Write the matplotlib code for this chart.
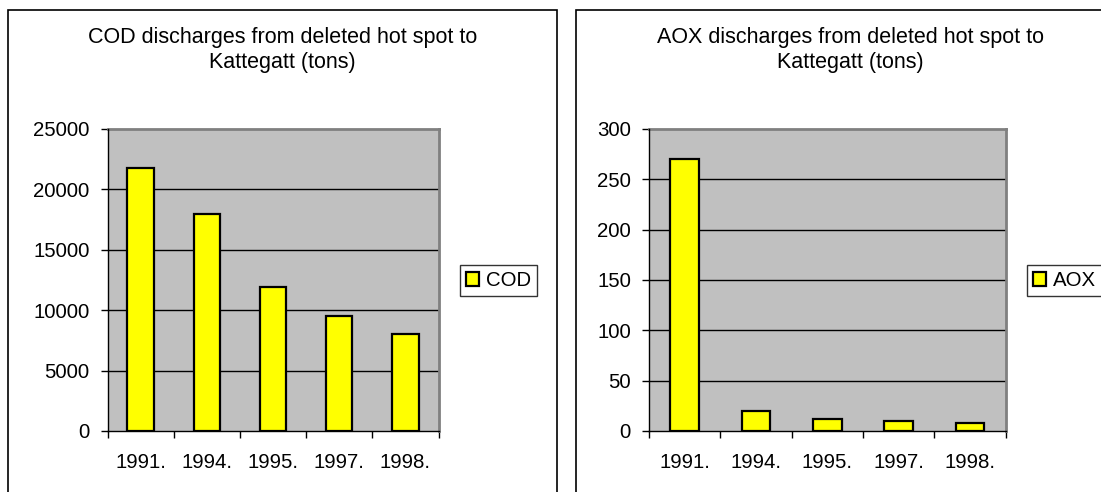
import numpy as np
import matplotlib.pyplot as plt
from matplotlib.patches import Rectangle, Patch

years = ["1991.", "1994.", "1995.", "1997.", "1998."]
cod_tons = [21800, 18000, 11900, 9500, 8000]
aox_tons = [270, 20, 12, 10, 8]

W, H = 1101, 492
plt.rcParams['font.family'] = ['Liberation Sans', 'DejaVu Sans']
FS = 14.7
FS_TITLE = 15.5


def fx(px):
    return px / W


def fy(py):
    return 1 - py / H


def draw_panel(fig, rect, values, ymax, ystep, title, label, panel_x, legend_x):
    # outer chart border
    fig.patches.append(Rectangle((fx(panel_x), -0.05), fx(549), fy(10) + 0.05,
                                 transform=fig.transFigure, fill=False,
                                 edgecolor="black", lw=1.2, zorder=0))
    ax = fig.add_axes(rect)
    ax.set_facecolor("#c0c0c0")
    x = np.arange(len(values))
    ax.bar(x, values, width=0.4, color="#ffff00", edgecolor="black",
           linewidth=1.6, zorder=3, label=label)
    ax.set_xlim(-0.5, len(values) - 0.5)
    ax.set_ylim(0, ymax)
    ax.set_yticks(np.arange(0, ymax + 1, ystep))
    for yv in np.arange(ystep, ymax, ystep):
        ax.axhline(yv, color="black", lw=1.0, zorder=1)

    ax.set_xticks(x)
    ax.set_xticklabels(years, fontsize=FS)
    ax.set_xticks(np.arange(-0.5, len(values)), minor=True)
    ax.tick_params(axis="x", which="major", length=0, pad=16)
    ax.tick_params(axis="x", which="minor", length=5, width=1.0, direction="out")
    ax.tick_params(axis="y", length=5, width=1.0, pad=8, labelsize=FS)

    for side in ("top", "right"):
        ax.spines[side].set_color("#808080")
        ax.spines[side].set_linewidth(2)
    for side in ("left", "bottom"):
        ax.spines[side].set_color("black")
        ax.spines[side].set_linewidth(1.0)
    ax.spines["left"].set_zorder(4)
    ax.spines["bottom"].set_zorder(4)

    fig.text(fx(panel_x + 549 / 2), fy(50), title, ha="center", va="center",
             fontsize=FS_TITLE, linespacing=1.2)

    handle = Patch(facecolor="#ffff00", edgecolor="black", linewidth=1.6)
    leg = ax.legend([handle], [label], loc="center left",
                    bbox_to_anchor=(fx(legend_x), fy(280.5)),
                    bbox_transform=fig.transFigure, fontsize=FS,
                    frameon=True, fancybox=False, handlelength=0.65,
                    handleheight=0.65, handletextpad=0.3, borderpad=0.3,
                    borderaxespad=0)
    leg.get_frame().set_edgecolor("black")
    leg.get_frame().set_linewidth(1.0)
    return ax


def main() -> None:
    fig = plt.figure(figsize=(W / 100, H / 100), dpi=100)

    draw_panel(fig, [fx(107.5), 1 - 431 / H, fx(331), 302 / H], cod_tons,
               25000, 5000,
               "COD discharges from deleted hot spot to\nKattegatt (tons)",
               "COD", 8, 460)
    draw_panel(fig, [fx(649), 1 - 431 / H, fx(356.5), 302 / H], aox_tons,
               300, 50,
               "AOX discharges from deleted hot spot to\nKattegatt (tons)",
               "AOX", 576, 1027)

    fig.savefig("out.png", dpi=100)
    plt.close(fig)


if __name__ == "__main__":
    main()
